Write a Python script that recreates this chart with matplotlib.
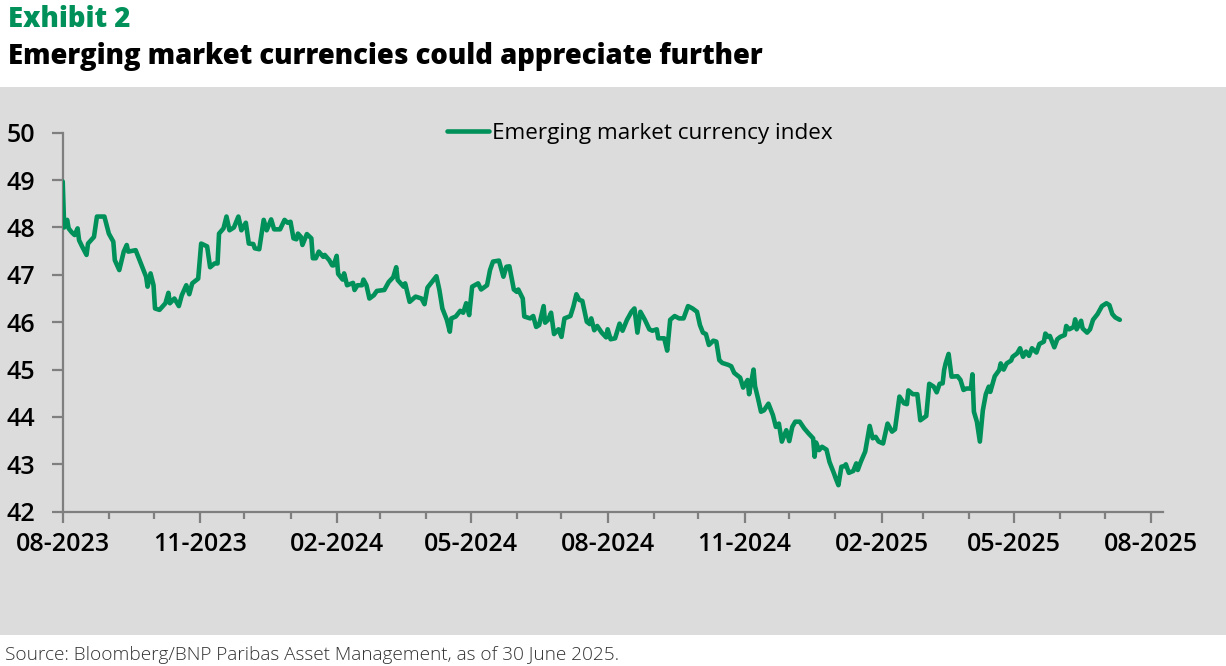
import matplotlib
matplotlib.use("Agg")
import matplotlib.pyplot as plt
import matplotlib.dates as mdates
from matplotlib.patches import Rectangle
import pandas as pd

title_top = "Exhibit 2"
title_main = "Emerging market currencies could appreciate further"
series_name = "Emerging market currency index"
source_text = "Source: Bloomberg/BNP Paribas Asset Management, as of 30 June 2025."

dates = [
    "2023-08-01", "2023-08-02", "2023-08-04", "2023-08-05", "2023-08-07", "2023-08-09",
    "2023-08-11", "2023-08-12", "2023-08-14", "2023-08-17", "2023-08-18", "2023-08-22",
    "2023-08-24", "2023-08-29", "2023-09-01", "2023-09-04", "2023-09-05", "2023-09-08",
    "2023-09-11", "2023-09-13", "2023-09-14", "2023-09-19", "2023-09-23", "2023-09-26",
    "2023-09-27", "2023-09-29", "2023-10-01", "2023-10-02", "2023-10-05", "2023-10-09",
    "2023-10-11", "2023-10-12", "2023-10-15", "2023-10-18", "2023-10-20", "2023-10-23",
    "2023-10-25", "2023-10-27", "2023-10-31", "2023-11-02", "2023-11-06", "2023-11-08",
    "2023-11-11", "2023-11-13", "2023-11-14", "2023-11-17", "2023-11-19", "2023-11-21",
    "2023-11-24", "2023-11-27", "2023-11-29", "2023-12-02", "2023-12-04", "2023-12-07",
    "2023-12-08", "2023-12-11", "2023-12-14", "2023-12-16", "2023-12-19", "2023-12-21",
    "2023-12-25", "2023-12-28", "2023-12-30", "2024-01-01", "2024-01-03", "2024-01-05",
    "2024-01-06", "2024-01-08", "2024-01-09", "2024-01-12", "2024-01-15", "2024-01-16",
    "2024-01-18", "2024-01-20", "2024-01-23", "2024-01-24", "2024-01-27", "2024-01-29",
    "2024-01-30", "2024-02-01", "2024-02-02", "2024-02-05", "2024-02-06", "2024-02-08",
    "2024-02-12", "2024-02-13", "2024-02-15", "2024-02-18", "2024-02-19", "2024-02-21",
    "2024-02-23", "2024-02-26", "2024-02-28", "2024-03-04", "2024-03-07", "2024-03-10",
    "2024-03-12", "2024-03-13", "2024-03-17", "2024-03-18", "2024-03-21", "2024-03-25",
    "2024-03-29", "2024-03-31", "2024-04-02", "2024-04-08", "2024-04-10", "2024-04-12",
    "2024-04-15", "2024-04-17", "2024-04-18", "2024-04-21", "2024-04-24", "2024-04-26",
    "2024-04-28", "2024-04-30", "2024-05-02", "2024-05-06", "2024-05-08", "2024-05-12",
    "2024-05-14", "2024-05-16", "2024-05-20", "2024-05-23", "2024-05-25", "2024-05-27",
    "2024-05-30", "2024-06-01", "2024-06-02", "2024-06-05", "2024-06-06", "2024-06-10",
    "2024-06-12", "2024-06-14", "2024-06-16", "2024-06-19", "2024-06-20", "2024-06-22",
    "2024-06-24", "2024-06-26", "2024-06-29", "2024-07-01", "2024-07-03", "2024-07-07",
    "2024-07-09", "2024-07-11", "2024-07-13", "2024-07-15", "2024-07-18", "2024-07-20",
    "2024-07-21", "2024-07-23", "2024-07-25", "2024-07-28", "2024-07-31", "2024-08-01",
    "2024-08-03", "2024-08-06", "2024-08-09", "2024-08-11", "2024-08-14", "2024-08-17",
    "2024-08-19", "2024-08-21", "2024-08-23", "2024-08-26", "2024-08-29", "2024-08-31",
    "2024-09-03", "2024-09-04", "2024-09-08", "2024-09-10", "2024-09-12", "2024-09-15",
    "2024-09-18", "2024-09-21", "2024-09-24", "2024-09-27", "2024-09-30", "2024-10-02",
    "2024-10-04", "2024-10-06", "2024-10-08", "2024-10-11", "2024-10-13", "2024-10-15",
    "2024-10-17", "2024-10-21", "2024-10-23", "2024-10-25", "2024-10-29", "2024-10-31",
    "2024-11-03", "2024-11-04", "2024-11-07", "2024-11-08", "2024-11-10", "2024-11-12",
    "2024-11-14", "2024-11-17", "2024-11-20", "2024-11-22", "2024-11-24", "2024-11-26",
    "2024-11-29", "2024-12-01", "2024-12-03", "2024-12-05", "2024-12-08", "2024-12-11",
    "2024-12-14", "2024-12-17", "2024-12-18", "2024-12-19", "2024-12-21", "2024-12-23",
    "2024-12-26", "2024-12-28", "2024-12-31", "2025-01-01", "2025-01-03", "2025-01-05",
    "2025-01-07", "2025-01-08", "2025-01-10", "2025-01-13", "2025-01-15", "2025-01-16",
    "2025-01-18", "2025-01-21", "2025-01-24", "2025-01-26", "2025-01-28", "2025-01-30",
    "2025-02-02", "2025-02-05", "2025-02-08", "2025-02-10", "2025-02-13", "2025-02-16",
    "2025-02-18", "2025-02-19", "2025-02-22", "2025-02-25", "2025-02-27", "2025-03-03",
    "2025-03-05", "2025-03-08", "2025-03-10", "2025-03-12", "2025-03-14", "2025-03-15",
    "2025-03-16", "2025-03-18", "2025-03-20", "2025-03-24", "2025-03-26", "2025-03-28",
    "2025-03-30", "2025-04-02", "2025-04-03", "2025-04-04", "2025-04-06", "2025-04-08",
    "2025-04-10", "2025-04-12", "2025-04-14", "2025-04-15", "2025-04-18", "2025-04-21",
    "2025-04-22", "2025-04-24", "2025-04-26", "2025-04-29", "2025-04-30", "2025-05-03",
    "2025-05-05", "2025-05-07", "2025-05-09", "2025-05-11", "2025-05-13", "2025-05-16",
    "2025-05-18", "2025-05-21", "2025-05-22", "2025-05-24", "2025-05-25", "2025-05-28",
    "2025-05-30", "2025-06-01", "2025-06-04", "2025-06-05", "2025-06-07", "2025-06-10",
    "2025-06-11", "2025-06-12", "2025-06-15", "2025-06-16", "2025-06-19", "2025-06-21",
    "2025-06-23", "2025-06-26", "2025-06-29", "2025-07-02", "2025-07-04", "2025-07-06",
    "2025-07-08", "2025-07-11",
]

values = [
    48.97, 48.00, 48.16, 47.98, 47.90, 47.84,
    47.98, 47.73, 47.60, 47.42, 47.66, 47.80,
    48.23, 48.23, 47.87, 47.70, 47.31, 47.10,
    47.49, 47.63, 47.49, 47.52, 47.20, 46.96,
    46.75, 47.03, 46.78, 46.29, 46.26, 46.40,
    46.62, 46.40, 46.50, 46.34, 46.57, 46.78,
    46.59, 46.82, 46.92, 47.66, 47.60, 47.16,
    47.24, 47.24, 47.87, 47.98, 48.23, 47.94,
    48.00, 48.23, 47.94, 48.10, 47.66, 47.65,
    47.56, 47.54, 48.16, 47.94, 48.17, 47.96,
    47.96, 48.16, 48.10, 48.12, 47.77, 47.75,
    47.87, 47.80, 47.63, 47.86, 47.77, 47.35,
    47.35, 47.49, 47.38, 47.42, 47.31, 47.20,
    47.20, 47.40, 47.02, 46.90, 47.03, 46.78,
    46.83, 46.68, 46.78, 46.78, 46.90, 46.78,
    46.50, 46.57, 46.66, 46.68, 46.85, 46.95,
    47.16, 46.89, 46.75, 46.82, 46.43, 46.54,
    46.50, 46.38, 46.73, 46.97, 46.68, 46.29,
    46.05, 45.80, 46.08, 46.12, 46.24, 46.20,
    46.40, 46.15, 46.75, 46.82, 46.69, 46.78,
    47.10, 47.28, 47.30, 46.96, 47.17, 47.18,
    46.69, 46.64, 46.69, 46.50, 46.12, 46.08,
    46.13, 45.90, 45.94, 46.34, 45.99, 46.05,
    46.20, 45.75, 45.85, 45.69, 46.08, 46.13,
    46.33, 46.59, 46.47, 46.45, 46.01, 45.96,
    46.08, 45.83, 45.92, 45.78, 45.68, 45.85,
    45.64, 45.66, 45.97, 45.82, 46.05, 46.22,
    46.29, 45.78, 46.22, 46.05, 45.85, 45.82,
    45.85, 45.66, 45.66, 45.40, 46.05, 46.13,
    46.08, 46.08, 46.34, 46.29, 46.22, 45.94,
    45.78, 45.75, 45.52, 45.61, 45.59, 45.20,
    45.14, 45.10, 45.07, 44.93, 44.83, 44.62,
    44.78, 44.48, 45.00, 44.65, 44.39, 44.11,
    44.14, 44.28, 44.04, 43.79, 43.86, 43.48,
    43.72, 43.49, 43.79, 43.90, 43.90, 43.76,
    43.65, 43.55, 43.16, 43.46, 43.30, 43.37,
    43.31, 43.05, 42.81, 42.72, 42.56, 42.95,
    42.96, 43.00, 42.82, 42.86, 43.02, 42.88,
    43.05, 43.27, 43.81, 43.55, 43.58, 43.48,
    43.44, 43.86, 43.69, 43.74, 44.43, 44.29,
    44.27, 44.56, 44.48, 44.48, 43.93, 44.02,
    44.70, 44.64, 44.52, 44.70, 44.71, 44.99,
    45.13, 45.33, 44.85, 44.86, 44.78, 44.57,
    44.60, 44.60, 44.90, 44.11, 43.90, 43.48,
    44.14, 44.48, 44.64, 44.53, 44.86, 44.99,
    45.13, 45.00, 45.13, 45.19, 45.27, 45.34,
    45.45, 45.27, 45.38, 45.29, 45.45, 45.36,
    45.54, 45.59, 45.76, 45.69, 45.71, 45.47,
    45.64, 45.69, 45.73, 45.92, 45.85, 45.90,
    46.06, 45.85, 46.03, 45.87, 45.78, 45.85,
    46.05, 46.17, 46.34, 46.40, 46.36, 46.17,
    46.10, 46.05,
]

y_ticks = [42, 43, 44, 45, 46, 47, 48, 49, 50]
x_start = "2023-08-01"
x_end = "2025-08-09"

GREEN = "#00915A"
PANEL = "#DCDCDC"
AXIS = "#7F7F7F"

fig = plt.figure(figsize=(12.26, 6.66), dpi=100)
fig.patch.set_facecolor("white")
fig.patches.append(Rectangle((0, 31 / 666), 1, 548 / 666, transform=fig.transFigure,
                             facecolor=PANEL, edgecolor="none", zorder=-10))

ax = fig.add_axes([62.7 / 1226, 154.3 / 666, 1100.3 / 1226, 379 / 666])
ax.set_facecolor("none")
ax.set_zorder(5)

x = pd.to_datetime(dates)
ax.plot(x, values, color=GREEN, lw=3.3, solid_joinstyle="round", solid_capstyle="round",
        label=series_name, zorder=3)

ax.set_ylim(42, 50)
ax.set_xlim(pd.Timestamp(x_start), pd.Timestamp(x_end))
ax.set_yticks(y_ticks)

ax.xaxis.set_major_locator(mdates.MonthLocator(bymonth=[2, 5, 8, 11]))
ax.xaxis.set_minor_locator(mdates.MonthLocator())
ax.xaxis.set_major_formatter(mdates.DateFormatter("%m-%Y"))

for s in ["top", "right"]:
    ax.spines[s].set_visible(False)
for s in ["left", "bottom"]:
    ax.spines[s].set_color(AXIS)
    ax.spines[s].set_linewidth(1.6)

ax.tick_params(axis="y", which="major", length=7.7, width=1.6, color=AXIS, pad=12,
               labelsize=18, labelcolor="black")
ax.tick_params(axis="x", which="major", length=7.7, width=1.6, color=AXIS, pad=7,
               labelsize=18, labelcolor="black")
ax.tick_params(axis="x", which="minor", length=5, width=1.6, color=AXIS)
for lab in ax.get_xticklabels() + ax.get_yticklabels():
    lab.set_fontfamily("Open Sans")
    lab.set_fontweight("semibold")

leg = ax.legend(loc="center left", bbox_to_anchor=((447 - 62.7) / 1100.3, (511.7 - 133) / 379),
                frameon=False, handlelength=1.85, handletextpad=0.14, borderpad=0,
                borderaxespad=0, prop=dict(family="Open Sans", size=16.2))

fig.text(8 / 1226, 1 - 27 / 666, title_top, color=GREEN, fontsize=19.8,
         fontfamily="Open Sans", fontweight="extra bold", ha="left", va="baseline")
fig.text(8 / 1226, 1 - 64 / 666, title_main, color="black", fontsize=19.8,
         fontfamily="Open Sans", fontweight="extra bold", ha="left", va="baseline")
fig.text(5 / 1226, 1 - 660 / 666, source_text, color="#333333", fontsize=13.7,
         fontfamily="Open Sans", fontweight="light", ha="left", va="baseline")

fig.savefig("out.png", dpi=100, facecolor=fig.get_facecolor())
